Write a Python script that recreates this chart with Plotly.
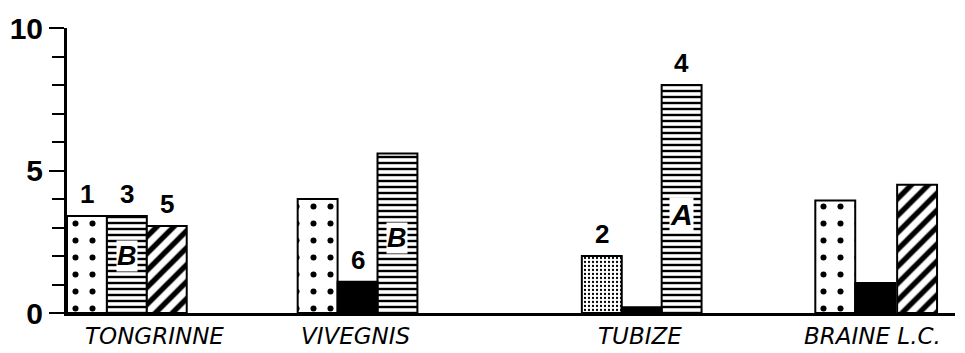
import plotly.graph_objects as go

# ---- data ----
categories = ["TONGRINNE", "VIVEGNIS", "TUBIZE", "BRAINE L.C."]

dots_vals    = [3.4, 4.0, None, 3.95]
stipple_vals = [None, None, 2.0, None]
lines_vals   = [3.4, 5.6, 8.0, None]
black_vals   = [None, 1.1, 0.2, 1.05]
hatch_vals   = [3.05, None, None, 4.5]

dots_nums    = ["1", "", "", ""]
stipple_nums = ["", "", "2", ""]
lines_nums   = ["3", "", "4", ""]
black_nums   = ["", "6", "", ""]
hatch_nums   = ["5", "", "", ""]

lines_letters = ["B", "B", "A", ""]
letter_heights = [2.0, 2.63, 3.44, None]

y_ticks = [0, 5, 10]

# ---- layout positions (not data) ----
group_pos = [1.5, 7.28, 14.4, 20.25]
label_pos = [2.2, 7.23, 14.35, 20.18]
dots_slot    = [-1, -1, -1, -1]
stipple_slot = [-1, -1, -1, -1]
lines_slot   = [0, 1, 1, 0]
black_slot   = [0, 0, 0, 0]
hatch_slot   = [1, 1, 1, 1.05]

series = [
    (dots_vals, dots_slot, dots_nums,
     dict(shape=".", size=17, solidity=0.1, fgcolor="black", bgcolor="white", fillmode="replace"), "white"),
    (stipple_vals, stipple_slot, stipple_nums,
     dict(shape=".", size=4, solidity=0.25, fgcolor="black", bgcolor="white", fillmode="replace"), "white"),
    (lines_vals, lines_slot, lines_nums,
     dict(shape="-", size=6, solidity=0.4, fgcolor="black", bgcolor="white", fillmode="replace"), "white"),
    (black_vals, black_slot, black_nums, None, "black"),
    (hatch_vals, hatch_slot, hatch_nums,
     dict(shape="/", size=12, solidity=0.45, fgcolor="black", bgcolor="white", fillmode="replace"), "white"),
]

fig = go.Figure()
annotations = []
for vals, slots, nums, pattern, color in series:
    xs, ys = [], []
    for i, v in enumerate(vals):
        if v is None:
            continue
        x = group_pos[i] + slots[i]
        xs.append(x)
        ys.append(v)
        if nums[i]:
            annotations.append(dict(
                x=x, y=v, xref="x", yref="y", text=nums[i], showarrow=False,
                yanchor="bottom", yshift=5,
                font=dict(family="Liberation Sans", size=26, color="black", weight="bold")))
    marker = dict(color=color, line=dict(color="black", width=2))
    if pattern:
        marker["pattern"] = pattern
    fig.add_trace(go.Bar(x=xs, y=ys, width=1.0, marker=marker, showlegend=False))

for i, letter in enumerate(lines_letters):
    if letter:
        annotations.append(dict(
            x=group_pos[i] + lines_slot[i], y=letter_heights[i], xref="x", yref="y",
            text="<i>" + letter + "</i>", showarrow=False, bgcolor="white",
            borderpad=0,
            font=dict(family="Liberation Sans", size=30 if letter == "A" else 27,
                      color="black", weight="bold")))

for i, c in enumerate(categories):
    annotations.append(dict(
        x=label_pos[i], y=0, xref="x", yref="paper", text="<i>" + c + "</i>",
        showarrow=False, yanchor="top", yshift=-9, borderpad=0,
        font=dict(family="DejaVu Sans", size=23, color="black")))

fig.update_layout(
    width=965, height=353,
    margin=dict(l=65, r=10, t=28, b=40),
    plot_bgcolor="white", paper_bgcolor="white",
    barmode="overlay",
    annotations=annotations,
    xaxis=dict(range=[0, 22.25], showgrid=False, zeroline=False, showticklabels=False,
               showline=True, linecolor="black", linewidth=3, ticks=""),
    yaxis=dict(range=[0, 10], tickvals=y_ticks, showgrid=False, zeroline=False,
               showline=True, linecolor="black", linewidth=3,
               ticks="outside", ticklen=15, tickwidth=2, tickcolor="black",
               tickfont=dict(family="Liberation Sans", size=30, color="black", weight="bold"),
               minor=dict(dtick=1, ticks="outside", ticklen=12, tickwidth=2, tickcolor="black")),
)

fig.write_html("out.html", config={"displayModeBar": False},
               post_script="document.body.style.margin='0';document.body.style.overflow='hidden';")
